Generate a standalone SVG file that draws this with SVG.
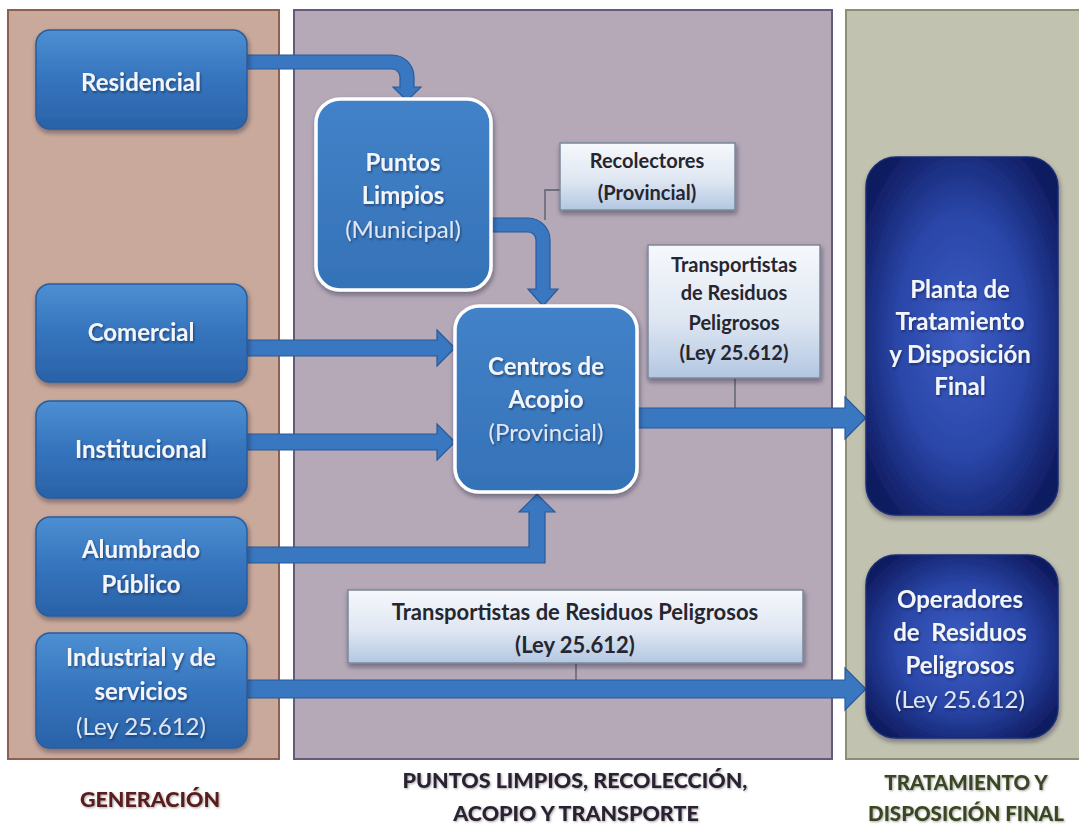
<svg xmlns="http://www.w3.org/2000/svg" width="1079" height="827" viewBox="0 0 1079 827">
<defs>
<linearGradient id="gBlue" x1="0" y1="0" x2="0" y2="1">
<stop offset="0" stop-color="#4d8fd2"/>
<stop offset="0.5" stop-color="#3574bd"/>
<stop offset="1" stop-color="#2a62a8"/>
</linearGradient>
<linearGradient id="gMid" x1="0" y1="0" x2="0" y2="1">
<stop offset="0" stop-color="#4282c8"/>
<stop offset="1" stop-color="#3572b8"/>
</linearGradient>
<linearGradient id="gLight" x1="0" y1="0" x2="0" y2="1">
<stop offset="0" stop-color="#f6f8fc"/>
<stop offset="0.55" stop-color="#dfe7f2"/>
<stop offset="1" stop-color="#b3c7e2"/>
</linearGradient>
<radialGradient id="gNavy" cx="0.5" cy="0.5" r="0.62">
<stop offset="0" stop-color="#3d5ec4"/>
<stop offset="0.55" stop-color="#2a46a8"/>
<stop offset="1" stop-color="#0e1a5e"/>
</radialGradient>
<filter id="shadow" x="-10%" y="-10%" width="125%" height="130%">
<feDropShadow dx="1" dy="3" stdDeviation="2.5" flood-color="#1a1a2a" flood-opacity="0.45"/>
</filter>
<filter id="tshadow" x="-5%" y="-20%" width="110%" height="150%">
<feDropShadow dx="1" dy="1.5" stdDeviation="1" flood-color="#0a1a3a" flood-opacity="0.6"/>
</filter>
<filter id="lshadow" x="-5%" y="-20%" width="110%" height="150%">
<feDropShadow dx="1" dy="1" stdDeviation="1.2" flood-color="#000" flood-opacity="0.35"/>
</filter>
</defs>
<style>
.panelL{fill:#c9a99b;stroke:#8f5f4f;stroke-width:2}
.panelM{fill:#b5a9b8;stroke:#625c78;stroke-width:2}
.panelR{fill:#c2c2b0;stroke:#8e8e74;stroke-width:2}
.gen{fill:url(#gBlue);stroke:#2a5c9c;stroke-width:1.5;filter:url(#shadow)}
.mid{fill:url(#gMid);stroke:#ffffff;stroke-width:3.5;filter:url(#shadow)}
.light{fill:url(#gLight);stroke:#7c8898;stroke-width:1.5;filter:url(#shadow)}
.navy{fill:url(#gNavy);stroke:#1c2c78;stroke-width:1.5;filter:url(#shadow)}
.t{font-family:Lato,"Liberation Sans",sans-serif;font-size:24px;font-weight:bold;fill:#f2f5fa;text-anchor:middle;filter:url(#tshadow)}
.tr{font-family:Lato,"Liberation Sans",sans-serif;font-size:24px;font-weight:normal;fill:#dce6f4;text-anchor:middle;filter:url(#tshadow)}
.d{font-family:Lato,"Liberation Sans",sans-serif;font-size:20px;font-weight:bold;fill:#262630;text-anchor:middle}
.dl{font-size:22px}
.lab{font-family:Lato,"Liberation Sans",sans-serif;font-size:21.5px;font-weight:900;text-anchor:middle;filter:url(#lshadow)}
.labs{font-size:20.5px}
.arr{fill:#3977c0;stroke:#2a5a98;stroke-width:1.2;stroke-linejoin:miter}
.thin{fill:none;stroke:#6f6f80;stroke-width:1.8}
</style>

<rect width="1079" height="827" fill="#ffffff"/>

<g id="panels">
<rect class="panelL" x="8" y="10" width="271" height="749"/>
<rect class="panelM" x="294" y="10" width="538" height="749"/>
<rect class="panelR" x="846" y="10" width="245" height="749"/>
</g>

<g id="connectors">
<path class="thin" d="M560,190 H545 V220"/>
<path class="thin" d="M735,378 V409"/>
<path class="thin" d="M576,662 V681"/>
<path class="arr" d="M247,55 H392 A22,22 0 0 1 414,77 V87 H421 L407,101 L393,87 H400 V77 A8,8 0 0 0 392,69 H247 Z"/>
<path class="arr" d="M490,218 H528 A22,22 0 0 1 550,240 V289 H558 L543,306 L528,289 H536 V240 A8,8 0 0 0 528,232 H490 Z"/>
<path class="arr" d="M247,340 H437 V330 L455,348 L437,366 V356 H247 Z"/>
<path class="arr" d="M247,434 H437 V424 L455,442 L437,460 V450 H247 Z"/>
<path class="arr" d="M247,547 H529 V512 H519 L537,494 L555,512 H545 V563 H247 Z"/>
<path class="arr" d="M637,408 H845 V397 L866,418 L845,439 V428 H637 Z"/>
<path class="arr" d="M247,680 H845 V668 L866,689 L845,710 V698 H247 Z"/>
</g>

<g id="residencial">
<rect class="gen" x="36" y="30" width="211" height="99" rx="14"/>
<text class="t" x="141" y="91">Residencial</text>
</g>
<g id="comercial">
<rect class="gen" x="36" y="284" width="211" height="98" rx="14"/>
<text class="t" x="141" y="341">Comercial</text>
</g>
<g id="institucional">
<rect class="gen" x="36" y="401" width="211" height="97" rx="14"/>
<text class="t" x="141" y="458">Institucional</text>
</g>
<g id="alumbrado">
<rect class="gen" x="36" y="517" width="211" height="99" rx="14"/>
<text class="t" x="141" y="558">Alumbrado</text>
<text class="t" x="141" y="593">Público</text>
</g>
<g id="industrial">
<rect class="gen" x="36" y="633" width="211" height="115" rx="14"/>
<text class="t" x="141" y="666">Industrial y de</text>
<text class="t" x="141" y="700">servicios</text>
<text class="tr" x="141" y="735">(Ley 25.612)</text>
</g>

<g id="puntos-limpios">
<rect class="mid" x="316" y="99" width="175" height="191" rx="24"/>
<text class="t" x="403" y="171">Puntos</text>
<text class="t" x="403" y="204">Limpios</text>
<text class="tr" x="403" y="238">(Municipal)</text>
</g>
<g id="centros-acopio">
<rect class="mid" x="455" y="306" width="182" height="186" rx="24"/>
<text class="t" x="546" y="375">Centros de</text>
<text class="t" x="546" y="408">Acopio</text>
<text class="tr" x="546" y="441">(Provincial)</text>
</g>
<g id="recolectores">
<rect class="light" x="560" y="143" width="175" height="67"/>
<text class="d" x="647" y="168">Recolectores</text>
<text class="d" x="647" y="200">(Provincial)</text>
</g>
<g id="transportistas-1">
<rect class="light" x="648" y="245" width="172" height="133"/>
<text class="d" x="734" y="272">Transportistas</text>
<text class="d" x="734" y="300">de Residuos</text>
<text class="d" x="734" y="330">Peligrosos</text>
<text class="d" x="734" y="360">(Ley 25.612)</text>
</g>
<g id="transportistas-2">
<rect class="light" x="348" y="590" width="455" height="73"/>
<text class="d dl" x="575" y="620">Transportistas de Residuos Peligrosos</text>
<text class="d dl" x="575" y="653">(Ley 25.612)</text>
</g>

<g id="planta">
<rect class="navy" x="866" y="157" width="192" height="358" rx="30"/>
<text class="t" x="960" y="298">Planta de</text>
<text class="t" x="960" y="330">Tratamiento</text>
<text class="t" x="960" y="363">y Disposición</text>
<text class="t" x="960" y="395">Final</text>
</g>
<g id="operadores">
<rect class="navy" x="866" y="555" width="192" height="183" rx="30"/>
<text class="t" x="960" y="608">Operadores</text>
<text class="t" x="960" y="641" xml:space="preserve">de  Residuos</text>
<text class="t" x="960" y="674">Peligrosos</text>
<text class="tr" x="960" y="708">(Ley 25.612)</text>
</g>

<g id="labels">
<text class="lab" x="150" y="807" fill="#5a1c1c">GENERACIÓN</text>
<text class="lab" x="575" y="788" fill="#2c2230">PUNTOS LIMPIOS, RECOLECCIÓN,</text>
<text class="lab" x="576" y="821" fill="#2c2230">ACOPIO Y TRANSPORTE</text>
<text class="lab labs" x="966" y="790" fill="#3a4620">TRATAMIENTO Y</text>
<text class="lab labs" x="966" y="821" fill="#3a4620">DISPOSICIÓN FINAL</text>
</g>
</svg>
